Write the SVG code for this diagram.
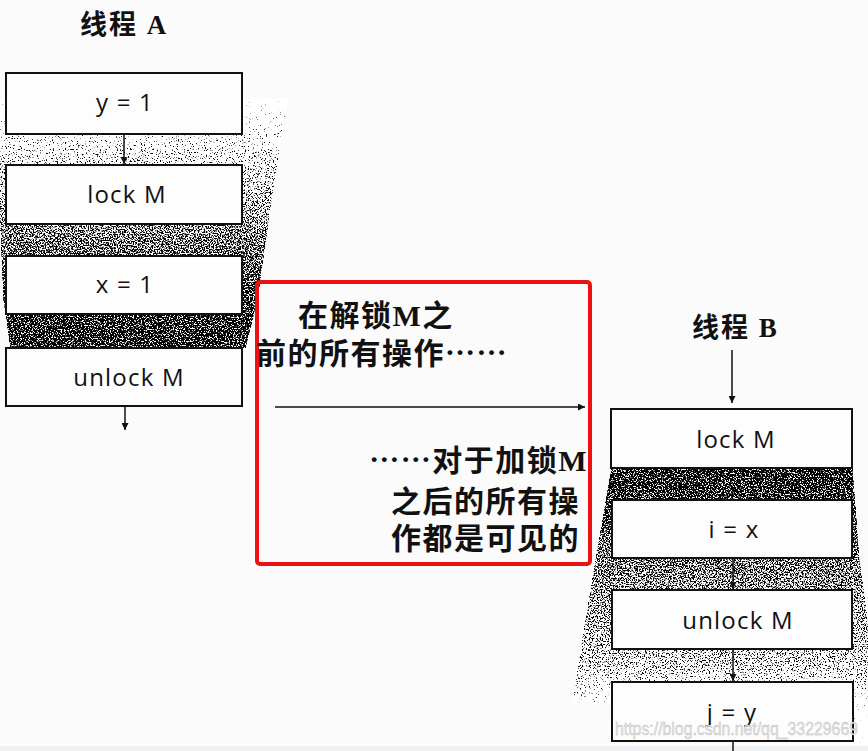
<svg xmlns="http://www.w3.org/2000/svg" width="868" height="751" viewBox="0 0 868 751">
<style>
.box{fill:#fdfdfd;stroke:#111;stroke-width:2}
.lbl{font-family:"Open Sans","Noto Sans",sans-serif;font-size:24px;fill:#111;text-anchor:middle;letter-spacing:1.2px}
.title{font-family:"Liberation Serif","Noto Sans CJK SC",serif;font-size:27px;font-weight:bold;fill:#111;letter-spacing:2px}
.cjk{font-family:"Liberation Serif","Noto Sans CJK SC",serif;font-size:30px;font-weight:bold;fill:#111;letter-spacing:1.5px}
.con{stroke:#111;stroke-width:1.5;fill:none}
</style>
<defs>
<marker id="ah" viewBox="0 0 10 10" refX="10" refY="5" markerWidth="7" markerHeight="7" markerUnits="userSpaceOnUse" orient="auto">
<path d="M0,0 L10,5 L0,10 z" fill="#111"/>
</marker>
<linearGradient id="gA" gradientUnits="userSpaceOnUse" x1="0" y1="95" x2="0" y2="348">
<stop offset="0" stop-color="#fafafa"/>
<stop offset="0.22" stop-color="#a0a0a0"/>
<stop offset="0.57" stop-color="#3a3a3a"/>
<stop offset="0.86" stop-color="#0a0a0a"/>
<stop offset="1" stop-color="#000"/>
</linearGradient>
<linearGradient id="gB" gradientUnits="userSpaceOnUse" x1="0" y1="468" x2="0" y2="745">
<stop offset="0" stop-color="#000"/>
<stop offset="0.12" stop-color="#0c0c0c"/>
<stop offset="0.38" stop-color="#404040"/>
<stop offset="0.71" stop-color="#7a7a7a"/>
<stop offset="0.84" stop-color="#d0d0d0"/>
<stop offset="1" stop-color="#fafafa"/>
</linearGradient>
<filter id="dither" color-interpolation-filters="sRGB">
<feTurbulence type="fractalNoise" baseFrequency="0.75" numOctaves="2" seed="7" result="t"/>
<feColorMatrix in="t" type="matrix" values="2.5 0 0 0 -0.9  2.5 0 0 0 -0.9  2.5 0 0 0 -0.9  0 0 0 0 1" result="n"/>
<feComposite in="SourceGraphic" in2="n" operator="arithmetic" k1="0" k2="4" k3="-4" k4="1" result="d"/>
<feComposite in="d" in2="SourceAlpha" operator="in"/>
</filter>
</defs>
<rect width="868" height="751" fill="#fbfbfb"/>
<rect x="0" y="746" width="868" height="5" fill="#eef1f4"/>

<g id="shadeA">
<polygon points="0,100 288,98 272,200 258,300 246,348 10,348 3,300 0,230" fill="url(#gA)" filter="url(#dither)"/>
</g>
<g id="shadeB">
<polygon points="611,468 853,468 860,560 868,620 868,745 853,745 611,705 573,700 580,650 595,560" fill="url(#gB)" filter="url(#dither)"/>
</g>

<g id="threadA-title"><text class="title" x="80" y="34">线程 A</text></g>
<g id="a-y1"><rect class="box" x="6" y="73" width="236" height="61"/><text class="lbl" x="125" y="111">y = 1</text></g>
<g id="a-lock"><rect class="box" x="6" y="165" width="236" height="59"/><text class="lbl" x="127" y="203">lock M</text></g>
<g id="a-x1"><rect class="box" x="6" y="256" width="236" height="58"/><text class="lbl" x="125" y="293">x = 1</text></g>
<g id="a-unlock"><rect class="box" x="6" y="348" width="236" height="58"/><text class="lbl" x="129" y="386">unlock M</text></g>

<g id="threadB-title"><text class="title" x="692" y="337">线程 B</text></g>
<g id="b-lock"><rect class="box" x="611" y="409" width="241" height="59"/><text class="lbl" x="736" y="448">lock M</text></g>
<g id="b-ix"><rect class="box" x="612" y="500" width="240" height="58"/><text class="lbl" x="734" y="538">i = x</text></g>
<g id="b-unlock"><rect class="box" x="612" y="590" width="240" height="59"/><text class="lbl" x="738" y="629">unlock M</text></g>
<g id="b-jy"><rect class="box" x="612" y="682" width="241" height="59"/><text class="lbl" x="732" y="721">j = y</text></g>

<g id="note">
<rect x="257" y="282" width="333" height="282" rx="3" fill="none" stroke="#ee1111" stroke-width="4"/>
<text class="cjk" x="298" y="326">在解锁M之</text>
<text class="cjk" x="256" y="364">前的所有操作<tspan dy="-9">……</tspan></text>
<text class="cjk" x="588" y="471" text-anchor="end"><tspan dy="-9">……</tspan><tspan dy="9">对于加锁M</tspan></text>
<text class="cjk" x="580" y="512" text-anchor="end">之后的所有操</text>
<text class="cjk" x="580" y="549" text-anchor="end">作都是可见的</text>
</g>

<g id="connectors">
<line class="con" x1="124" y1="134" x2="124" y2="164" marker-end="url(#ah)"/>
<line class="con" x1="125" y1="406" x2="125" y2="430" marker-end="url(#ah)"/>
<line class="con" x1="275" y1="407" x2="585" y2="407" marker-end="url(#ah)"/>
<line class="con" x1="732" y1="350" x2="732" y2="403" marker-end="url(#ah)"/>
<line class="con" x1="733" y1="558" x2="733" y2="589" marker-end="url(#ah)"/>
<line class="con" x1="733" y1="649" x2="733" y2="681" marker-end="url(#ah)"/>
<line class="con" x1="733" y1="741" x2="733" y2="751"/>
</g>

<text x="615" y="735" font-family="Liberation Sans,Arial,sans-serif" font-size="18" fill="#e4e4e4" stroke="#bbb" stroke-width="0.4" textLength="243" lengthAdjust="spacingAndGlyphs">https://blog.csdn.net/qq_33229669</text>
</svg>
